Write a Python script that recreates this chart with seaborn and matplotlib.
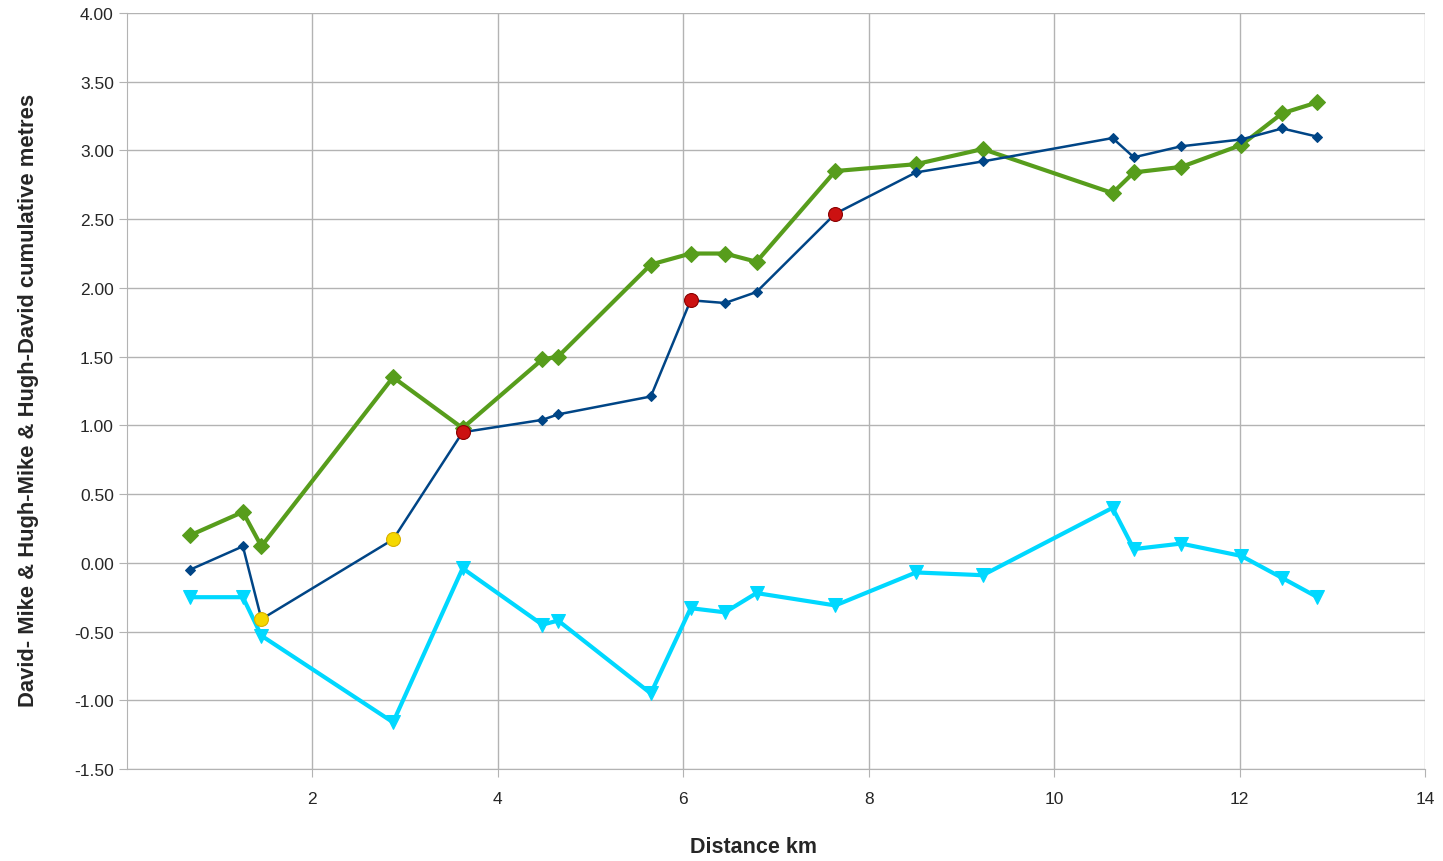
import matplotlib
matplotlib.use("Agg")
import matplotlib.pyplot as plt
import seaborn as sns
import numpy as np
import pandas as pd

distance_km = [0.68, 1.25, 1.45, 2.87, 3.62, 4.48, 4.65, 5.65, 6.08, 6.45, 6.79,
               7.64, 8.51, 9.23, 10.63, 10.86, 11.37, 12.02, 12.46, 12.84]
david_mike = [-0.05, 0.12, -0.41, 0.17, 0.95, 1.04, 1.08, 1.21, 1.91, 1.89, 1.97,
              2.54, 2.84, 2.92, 3.09, 2.95, 3.03, 3.08, 3.16, 3.10]
hugh_mike = [0.20, 0.37, 0.12, 1.35, 0.98, 1.48, 1.50, 2.17, 2.25, 2.25, 2.19,
             2.85, 2.90, 3.01, 2.69, 2.84, 2.88, 3.04, 3.27, 3.35]
hugh_david = [-0.25, -0.25, -0.53, -1.16, -0.04, -0.45, -0.42, -0.95, -0.33, -0.36, -0.22,
              -0.31, -0.07, -0.09, 0.40, 0.10, 0.14, 0.05, -0.11, -0.25]
yellow_idx = [2, 3]
red_idx = [4, 8, 11]

x_ticks = [2, 4, 6, 8, 10, 12, 14]
y_ticks = [-1.5, -1.0, -0.5, 0.0, 0.5, 1.0, 1.5, 2.0, 2.5, 3.0, 3.5, 4.0]

df = pd.DataFrame({"x": distance_km, "dm": david_mike, "hm": hugh_mike, "hd": hugh_david})

sns.set_style("white")
plt.rcParams['font.family'] = ['Liberation Sans', 'DejaVu Sans']

fig = plt.figure(figsize=(14.43, 8.62), dpi=100)
ax = fig.add_axes([0.088, 0.1067, 0.8995, 0.8771])

blue = "#004586"
green = "#579d1c"
cyan = "#00d8ff"

sns.lineplot(data=df, x="x", y="hm", ax=ax, sort=False, color=green, linewidth=3,
             marker="D", markersize=8, markeredgecolor=green, zorder=3)
sns.lineplot(data=df, x="x", y="dm", ax=ax, sort=False, color=blue, linewidth=1.8,
             marker="D", markersize=5, markeredgecolor=blue, zorder=4)
sns.lineplot(data=df, x="x", y="hd", ax=ax, sort=False, color=cyan, linewidth=3,
             marker="v", markersize=10, markeredgecolor=cyan, zorder=3)

yd = df.iloc[yellow_idx]
rd = df.iloc[red_idx]
sns.scatterplot(data=yd, x="x", y="dm", ax=ax, color="#f5d800", s=100,
                edgecolor="#d9b000", linewidth=0.8, zorder=5)
sns.scatterplot(data=rd, x="x", y="dm", ax=ax, color="#cc1111", s=100,
                edgecolor="#8a0000", linewidth=0.8, zorder=5)

ax.set_xlim(0, 14)
ax.set_ylim(-1.5, 4.0)
ax.set_xticks(x_ticks)
ax.set_yticks(y_ticks)
ax.set_yticklabels([f"{v:.2f}" for v in y_ticks])
ax.grid(True, color="#b3b3b3", linewidth=1)
ax.set_axisbelow(True)
for s in ["top", "right"]:
    ax.spines[s].set_visible(False)
for s in ["left", "bottom"]:
    ax.spines[s].set_color("#b3b3b3")
ax.tick_params(axis="both", which="major", length=6, color="#b3b3b3",
               labelsize=12.5, direction="out", left=True, bottom=True)
ax.tick_params(axis="x", pad=10)
ax.set_xlabel("Distance km", fontsize=15.5, fontweight="bold")
ax.xaxis.set_label_coords(0.483, -0.089)
ax.set_ylabel("David- Mike & Hugh-Mike & Hugh-David cumulative metres",
              fontsize=15.8, fontweight="bold")
ax.yaxis.set_label_coords(-0.068, 0.489)

fig.savefig("out.png", dpi=100)
